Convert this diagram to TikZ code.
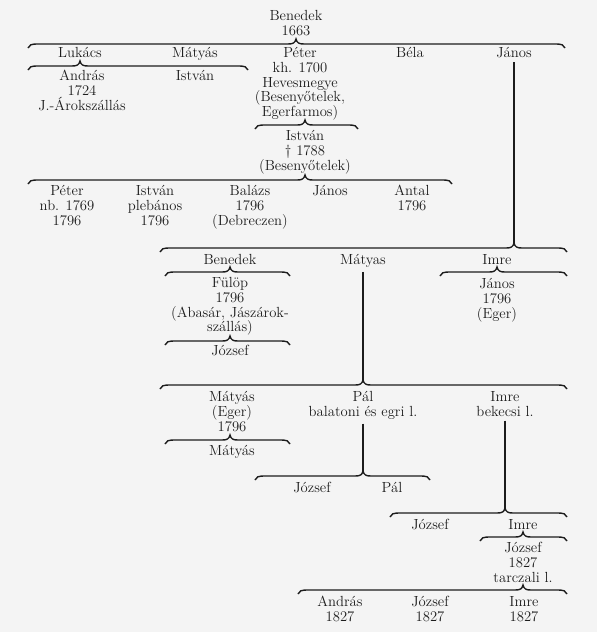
\documentclass[tikz,border=0pt]{standalone}
\usepackage{tikz}
\usetikzlibrary{calc}

\definecolor{paper}{HTML}{F4F4F4}
\definecolor{ink}{HTML}{1C1C1C}

\newcommand{\famBrace}[4]{%
  \draw[brace] (#1,#4+4) .. controls (#1+1,#4+1) and (#1+3,#4) .. (#1+10,#4)
    -- (#2-8,#4) .. controls (#2-3,#4) and (#2-1,#4-1) .. (#2,#4-5)
    .. controls (#2+1,#4-1) and (#2+3,#4) .. (#2+8,#4)
    -- (#3-10,#4) .. controls (#3-3,#4) and (#3-1,#4+1) .. (#3,#4+4);}

\begin{document}
\begin{tikzpicture}[
  x=0.75pt, y=-0.75pt,
  person/.style={anchor=north, align=center, inner sep=0pt, text=ink, font=\fontsize{11}{11.1}\selectfont},
  brace/.style={draw=ink, line width=1.05pt},
  stem/.style={draw=ink, line width=1.7pt}
]
\fill[paper] (0,0) rectangle (597,632);
\useasboundingbox (0,0) rectangle (597,632);

\node[person] (benedek) at (296,10) {Benedek\\1663};
\node[person] (lukacs) at (80,47) {Lukács};
\node[person] (matyas) at (195,47) {Mátyás};
\node[person] (peter) at (300,47) {Péter\\kh. 1700\\Hevesmegye\\(Besenyőtelek,\\Egerfarmos)};
\node[person] (bela) at (410,47) {Béla};
\node[person] (janos) at (514,47) {János};
\node[person] (andras) at (82,70) {András\\1724\\J.-Árokszállás};
\node[person] (istvan) at (195,70) {István};
\node[person] (istvanDead) at (305,130) {István\\\dag\ 1788\\(Besenyőtelek)};
\node[person] (peterNb) at (67,185) {Péter\\nb. 1769\\1796};
\node[person] (istvanPleb) at (155,185) {István\\plebános\\1796};
\node[person] (balazs) at (250,185) {Balázs\\1796\\(Debreczen)};
\node[person] (janosB) at (330,185) {János};
\node[person] (antal) at (412,185) {Antal\\1796};
\node[person] (benedekB) at (230,254) {Benedek};
\node[person] (matyasB) at (363,254) {Mátyas};
\node[person] (imre) at (497,254) {Imre};
\node[person] (fulop) at (230,277) {Fülöp\\1796\\(Abasár, Jászárok-\\szállás)};
\node[person] (jozsef) at (230,345) {József};
\node[person] (janosEger) at (497,278) {János\\1796\\(Eger)};
\node[person] (matyasEger) at (232,391) {Mátyás\\(Eger)\\1796};
\node[person] (pal) at (363,391) {Pál\\balatoni és egri l.};
\node[person] (imreBekecs) at (505,391) {Imre\\bekecsi l.};
\node[person] (matyasC) at (232,445) {Mátyás};
\node[person] (jozsefB) at (312,482) {József};
\node[person] (palB) at (392,482) {Pál};
\node[person] (jozsefC) at (430,519) {József};
\node[person] (imreC) at (523,519) {Imre};
\node[person] (jozsefTarcz) at (523,542) {József\\1827\\tarczali l.};
\node[person] (andrasB) at (340,596) {András\\1827};
\node[person] (jozsefE) at (430,596) {József\\1827};
\node[person] (imreD) at (524,596) {Imre\\1827};

\famBrace{28}{296}{565}{44}
\famBrace{28}{80}{248}{66}
\famBrace{255}{305}{358}{125}
\famBrace{28}{305}{452}{180}
\famBrace{160}{514}{567}{248}
\famBrace{165}{230}{290}{272}
\famBrace{440}{497}{567}{272}
\famBrace{165}{230}{290}{341}
\famBrace{160}{363}{567}{385}
\famBrace{165}{230}{290}{440}
\famBrace{255}{363}{430}{476}
\famBrace{390}{505}{567}{513}
\famBrace{480}{523}{567}{537}
\famBrace{298}{523}{567}{590}

\coordinate (janosTip) at (514,243);
\coordinate (matyasTip) at (363,380);
\coordinate (palTip) at (363,471);
\coordinate (imreTip) at (505,508);
\draw[stem] ([yshift=-3pt]janos.south) -- (janos.south |- janosTip);
\draw[stem] ([yshift=-3pt]matyasB.south) -- (matyasB.south |- matyasTip);
\draw[stem] ([yshift=-3pt]pal.south) -- (pal.south |- palTip);
\draw[stem] ([yshift=-3pt]imreBekecs.south) -- (imreBekecs.south |- imreTip);
\end{tikzpicture}
\end{document}
